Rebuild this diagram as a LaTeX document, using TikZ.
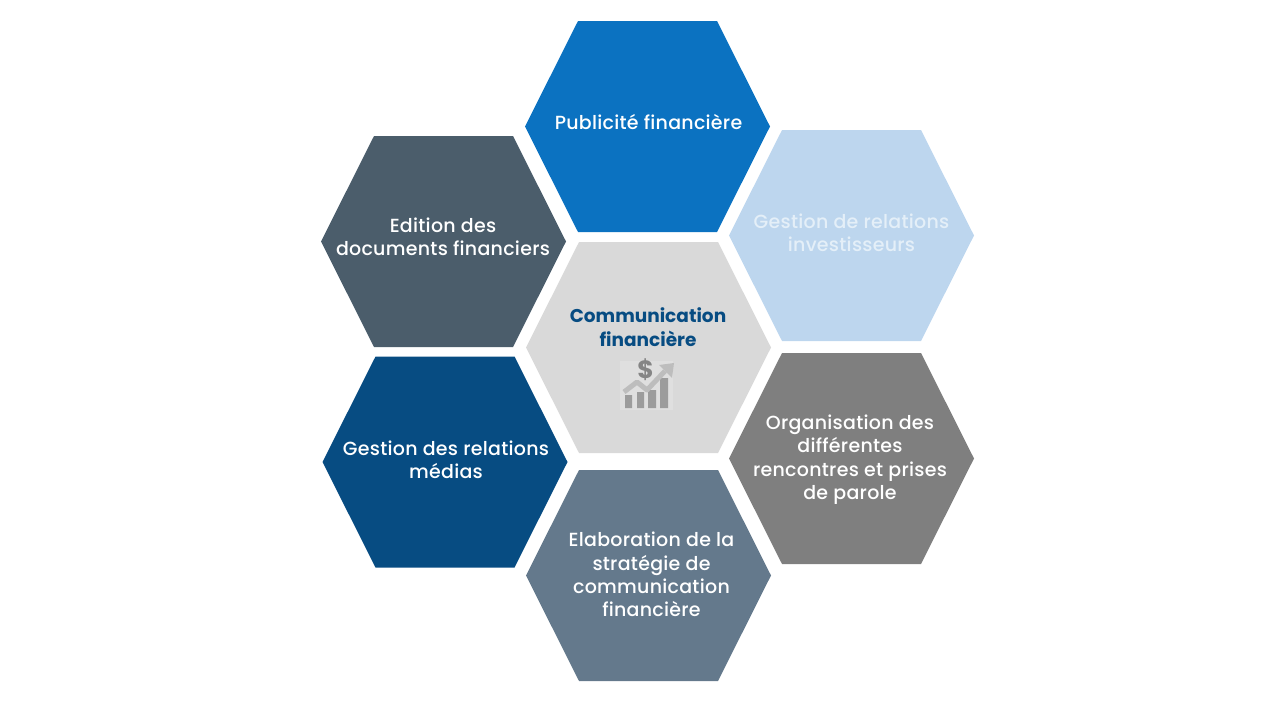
\documentclass[tikz,border=0pt]{standalone}
\usepackage{fontspec}
\setmainfont[LetterSpace=1.4,BoldFont={Poppins Bold},BoldFeatures={LetterSpace=0}]{Poppins Medium}
\definecolor{pubblue}{HTML}{0B72C1}
\definecolor{invblue}{HTML}{BDD6EE}
\definecolor{orggrey}{HTML}{7F7F7F}
\definecolor{elaslate}{HTML}{64798C}
\definecolor{mednavy}{HTML}{074C82}
\definecolor{edidark}{HTML}{4B5D6B}
\definecolor{comgrey}{HTML}{D9D9D9}
\definecolor{icongrey}{HTML}{9C9C9C}
\definecolor{arrowgrey}{HTML}{BDBDBD}
\tikzset{
	hexlabel/.style={align=center, text=white, font=\fontsize{19}{23.4}\selectfont},
}
\newcommand{\hexa}[3]{\fill[#3] (#1-122.5,#2)--(#1-69.5,#2-105.5)--(#1+69.5,#2-105.5)--(#1+122.5,#2)--(#1+69.5,#2+105.5)--(#1-69.5,#2+105.5)--cycle;}
\begin{document}
\begin{tikzpicture}[x=1pt, y=-1pt, line join=round]
	\useasboundingbox (0,0) rectangle (1280,720);
	\hexa{647.5}{126.5}{pubblue}
	\hexa{851.5}{235.5}{invblue}
	\hexa{851.5}{458.5}{orggrey}
	\hexa{648.5}{575.5}{elaslate}
	\hexa{445}{462}{mednavy}
	\hexa{443.5}{241.5}{edidark}
	\hexa{648.5}{347.5}{comgrey}
	\node[hexlabel] (pub) at (648.5,122) {Publicité financière};
	\node[hexlabel, text=white!60!invblue] (inv) at (851.5,232.5) {Gestion de relations\\investisseurs};
	\node[hexlabel] (org) at (850,459.5) {Organisation des\\différentes\\rencontres et prises\\de parole};
	\node[hexlabel] (ela) at (651.5,574.5) {Elaboration de la\\stratégie de\\communication\\financière};
	\node[hexlabel] (med) at (446,459.5) {Gestion des relations\\médias};
	\node[hexlabel] (edi) at (443,236.5) {Edition des\\documents financiers};
	\node[hexlabel, text=mednavy, font=\fontsize{18.5}{23.5}\selectfont\bfseries] (com) at (648,327) {Communication\\financière};
	% icon
	\fill[comgrey!85!white] (620,361) rectangle (673,410);
	\fill[icongrey] (625,395) rectangle (632,408) (637,392) rectangle (644,408) (648,390) rectangle (656,408) (660,378) rectangle (668,408);
	\draw[arrowgrey, line width=5pt] (624,392)--(637,382)--(647,390)--(665,371);
	\fill[arrowgrey] (659,365)--(674,363)--(672,378)--cycle;
	\node[text=icongrey!85!black, font=\fontsize{25}{25}\selectfont\bfseries] (dollar) at (645.5,369.5) {\$};
\end{tikzpicture}
\end{document}
